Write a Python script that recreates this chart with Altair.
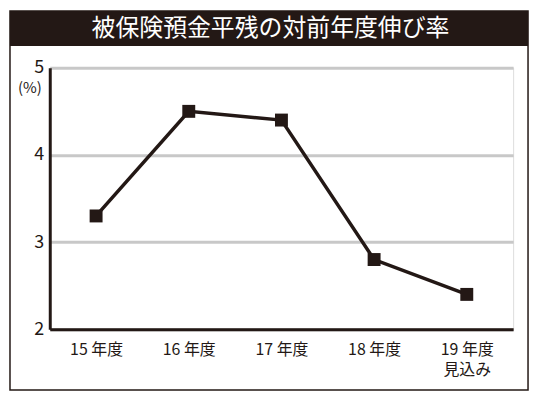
import altair as alt
import pandas as pd

categories = ["15 年度", "16 年度", "17 年度", "18 年度", "19 年度\n見込み"]
values = [3.3, 4.5, 4.4, 2.8, 2.4]
title_text = "被保険預金平残の対前年度伸び率"
y_ticks = [2, 3, 4, 5]

DARK = "#231815"
FONT = "Noto Sans CJK JP"

df = pd.DataFrame({"year": categories, "rate": values})
one = alt.Data(values=[{"t": title_text}])

frame = alt.Chart(one).mark_rect(fill=None, fillOpacity=0, stroke=DARK, strokeWidth=1.5).encode(
    x=alt.value(-40), x2=alt.value(481), y=alt.value(-57), y2=alt.value(324)
)
bar = alt.Chart(one).mark_rect(fill=DARK).encode(
    x=alt.value(-40), x2=alt.value(481), y=alt.value(-57), y2=alt.value(-22)
)
ttl = alt.Chart(one).mark_text(
    color="white", fontSize=24, font=FONT, align="center", baseline="middle"
).encode(x=alt.value(222), y=alt.value(-39), text="t:N")
pct = alt.Chart(one).mark_text(
    color=DARK, fontSize=15, font=FONT, align="center", baseline="middle"
).encode(x=alt.value(-20), y=alt.value(20), text=alt.value("(%)"))

xenc = alt.X(
    "year:O", sort=categories, title=None,
    scale=alt.Scale(type="point", padding=0.5),
    axis=alt.Axis(
        labelAngle=0, labelFontSize=16, labelFont=FONT, labelColor=DARK,
        domainColor=DARK, domainWidth=3, ticks=False, labelPadding=12,
        labelLineHeight=21, labelExpr="split(datum.label, '\\n')", zindex=1,
    ),
)
yenc = alt.Y(
    "rate:Q", title=None,
    scale=alt.Scale(domain=[2, 5], nice=False, zero=False),
    axis=alt.Axis(
        values=y_ticks, format="d", labelFontSize=18, labelFont=FONT, labelColor=DARK,
        domainColor=DARK, domainWidth=3, ticks=False, labelPadding=6,
        grid=True, gridColor="#c8c8c8", gridWidth=3, labelBaseline="middle",
    ),
)

line = alt.Chart(df).mark_line(color=DARK, strokeWidth=3.5).encode(x=xenc, y=yenc)
pts = alt.Chart(df).mark_square(color=DARK, opacity=1, size=169, filled=True).encode(
    x=alt.X("year:O", sort=categories), y="rate:Q"
)

chart = alt.layer(frame, bar, ttl, pct, line, pts).properties(
    width=466, height=263,
    autosize=alt.AutoSizeParams(type="none"),
    padding={"left": 42, "top": 59, "right": 20, "bottom": 64},
).configure_view(stroke=None).configure(background="white")

chart.save("out.html", embed_options={"renderer": "svg", "actions": False})
